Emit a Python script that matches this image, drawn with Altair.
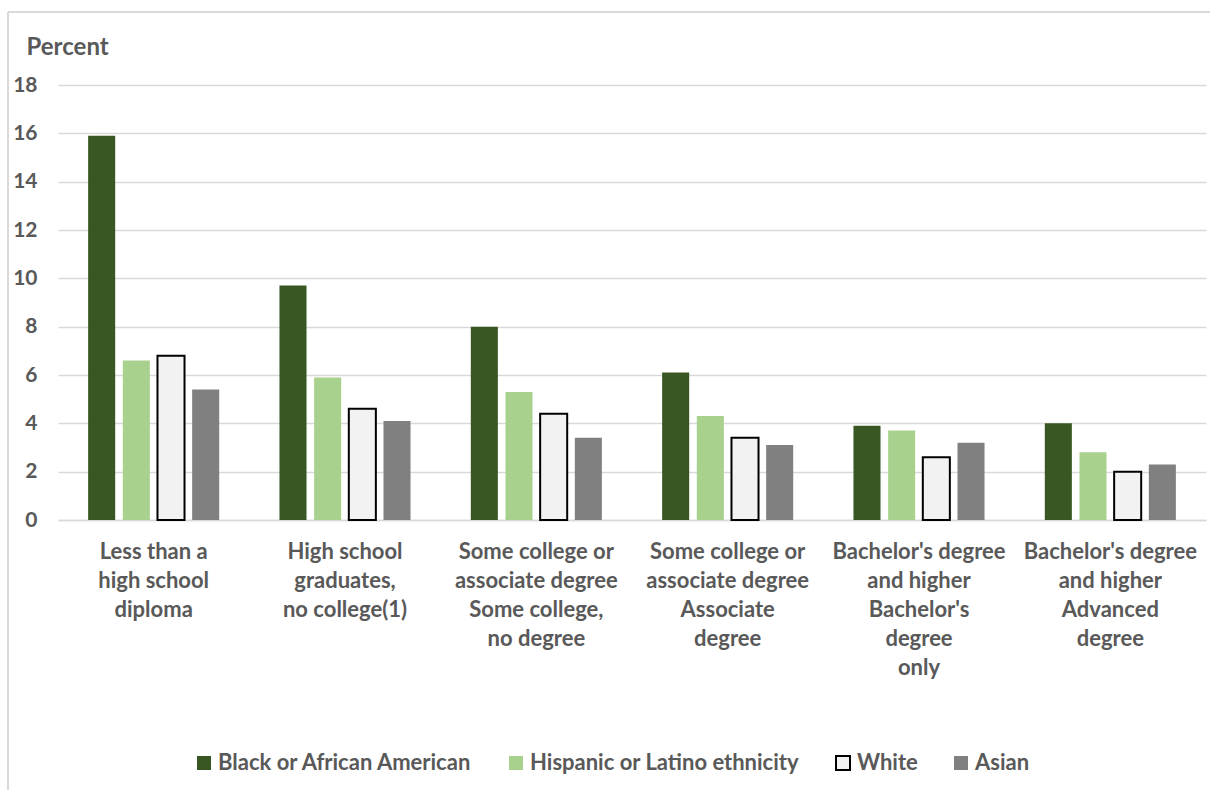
import altair as alt
import pandas as pd

# Unemployment rate by educational attainment and race/ethnicity (percent)
categories = [
    "Less than a\nhigh school\ndiploma",
    "High school\ngraduates,\nno college(1)",
    "Some college or\nassociate degree\nSome college,\nno degree",
    "Some college or\nassociate degree\nAssociate\ndegree",
    "Bachelor's degree\nand higher\nBachelor's\ndegree\nonly",
    "Bachelor's degree\nand higher\nAdvanced\ndegree",
]
groups = ["Black or African American", "Hispanic or Latino ethnicity", "White", "Asian"]
black = [15.9, 9.7, 8.0, 6.1, 3.9, 4.0]
hispanic = [6.6, 5.9, 5.3, 4.3, 3.7, 2.8]
white = [6.8, 4.6, 4.4, 3.4, 2.6, 2.0]
asian = [5.4, 4.1, 3.4, 3.1, 3.2, 2.3]

fill_colors = ["#385723", "#A9D18E", "#F2F2F2", "#808080"]
stroke_colors = ["transparent", "transparent", "#000000", "transparent"]

rows = []
for series, name in zip([black, hispanic, white, asian], groups):
    for cat, val in zip(categories, series):
        rows.append({"category": cat, "group": name, "value": val})
df = pd.DataFrame(rows)

FONT = "Lato"
TEXT = "#595959"
GRID = "#D9D9D9"

legend = alt.Legend(
    title=None,
    orient="none",
    legendX=135,
    legendY=667,
    direction="horizontal",
    symbolType="square",
    symbolSize=196,
    symbolStrokeWidth=2,
    symbolOpacity=1,
    labelFont=FONT,
    labelFontSize=22,
    labelFontWeight="bold",
    labelColor=TEXT,
    labelOffset=3,
    columnPadding=32,
    padding=0,
    labelLimit=0,
)

bars = alt.Chart(df).mark_bar(strokeWidth=2).encode(
    x=alt.X(
        "category:N",
        sort=categories,
        scale=alt.Scale(paddingInner=0.315, paddingOuter=0.1575),
        axis=alt.Axis(
            title=None,
            labelAngle=0,
            labelExpr="split(datum.label, '\\n')",
            labelFont=FONT,
            labelFontSize=22,
            labelFontWeight="bold",
            labelColor=TEXT,
            labelLineHeight=29,
            labelPadding=21,
            labelLimit=0,
            ticks=False,
            domainColor=GRID,
            domainWidth=1.5,
            grid=False,
        ),
    ),
    xOffset=alt.XOffset(
        "group:N", sort=groups, scale=alt.Scale(paddingInner=0.22, paddingOuter=0)
    ),
    y=alt.Y(
        "value:Q",
        scale=alt.Scale(domain=[0, 18], nice=False),
        axis=alt.Axis(
            values=list(range(0, 19, 2)),
            title="Percent",
            titleAngle=0,
            titleAlign="left",
            titleBaseline="alphabetic",
            titleX=-32,
            titleY=-31,
            titleFont=FONT,
            titleFontSize=24,
            titleFontWeight="bold",
            titleColor=TEXT,
            labelFont=FONT,
            labelFontSize=21,
            labelFontWeight="bold",
            labelColor=TEXT,
            labelPadding=21,
            domain=False,
            ticks=False,
            gridColor=GRID,
            gridWidth=1.5,
        ),
    ),
    color=alt.Color(
        "group:N", sort=groups,
        scale=alt.Scale(domain=groups, range=fill_colors),
        legend=legend,
    ),
    stroke=alt.Stroke(
        "group:N", sort=groups,
        scale=alt.Scale(domain=groups, range=stroke_colors),
        legend=legend,
    ),
)

# light frame around the chart area
frame_df = pd.DataFrame({"k": [0]})
frame_left = alt.Chart(frame_df).mark_rule(color=GRID, strokeWidth=2).encode(
    x=alt.value(-50), y=alt.value(-73), y2=alt.value(720)
)
frame_top = alt.Chart(frame_df).mark_rule(color=GRID, strokeWidth=2).encode(
    x=alt.value(-50), x2=alt.value(1170), y=alt.value(-73)
)

chart = (
    alt.layer(frame_left, frame_top, bars)
    .properties(
        width=1148,
        height=435,
        autosize=alt.AutoSizeParams(type="none"),
        padding={"left": 58, "top": 85, "right": 4, "bottom": 270},
        background="white",
    )
    .configure_view(strokeWidth=0)
)

chart.save("out.html", embed_options={"renderer": "svg", "actions": False})
